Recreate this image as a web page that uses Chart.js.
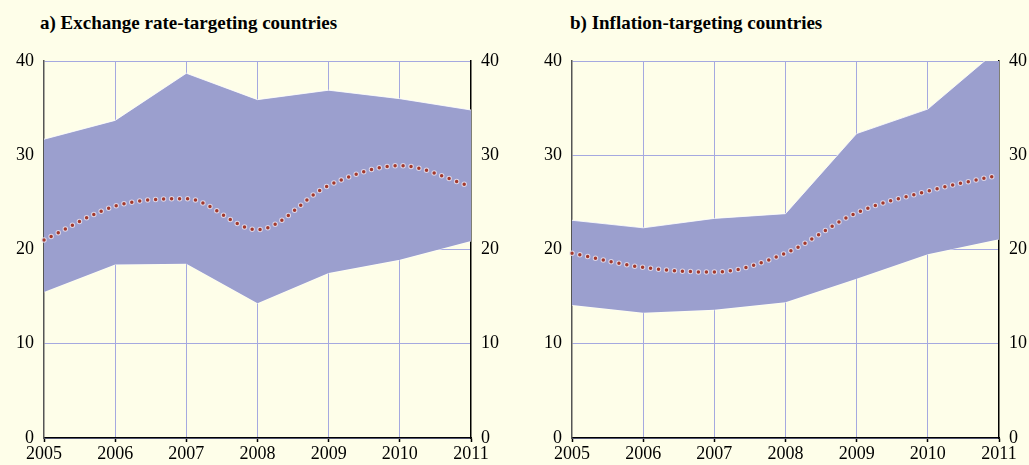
<!DOCTYPE html>
<html>
<head>
<meta charset="utf-8">
<script src="https://cdn.jsdelivr.net/npm/chart.js@4"></script>
<style>
    html, body {
        margin: 0;
        padding: 0;
        background: #fefee9;
    }
    #page {
        position: relative;
        width: 1029px;
        height: 465px;
        overflow: hidden;
        background: #fefee9;
    }
    .title {
        position: absolute;
        top: 12px;
        font-family: "Liberation Serif", "Times New Roman", serif;
        font-weight: bold;
        font-size: 19px;
        color: #000;
        white-space: nowrap;
    }
    .box {
        position: absolute;
        top: 0;
        height: 465px;
    }
</style>
</head>
<body>
<div id="page">
    <div class="title" style="left:40px">a) Exchange rate-targeting countries</div>
    <div class="title" style="left:570px">b) Inflation-targeting countries</div>
    <div class="box" style="left:0; width:520px"><canvas id="chartA"></canvas></div>
    <div class="box" style="left:528px; width:501px"><canvas id="chartB"></canvas></div>
</div>

<script>
/* ==========================================
   DATA
========================================== */

const years = ["2005", "2006", "2007", "2008", "2009", "2010", "2011"];

// a) Exchange rate-targeting countries
const erUpper  = [31.7, 33.7, 38.7, 35.9, 36.9, 36.0, 34.8];
const erLower  = [15.5, 18.4, 18.5, 14.3, 17.5, 18.9, 20.9];
const erMedian = [21.0, 24.6, 25.4, 22.1, 26.8, 28.9, 26.7];

// b) Inflation-targeting countries
const itUpper  = [23.1, 22.3, 23.3, 23.8, 32.3, 34.9, 41.3];
const itLower  = [14.1, 13.3, 13.6, 14.4, 16.9, 19.5, 21.1];
const itMedian = [19.6, 18.1, 17.6, 19.6, 23.9, 26.2, 27.9];

const yMin = 0;
const yMax = 40;
const yStep = 10;


/* ==========================================
   STYLE
========================================== */

const serif = "'Liberation Serif', 'Times New Roman', serif";
const bandColor = "#9b9fce";
const gridColor = "#a5a9e0";
const dotColor = "#a3382b";


/* ==========================================
   BUILD ONE PANEL
========================================== */

function makePanel(canvasId, upper, lower, median, rightWidth) {

    new Chart(document.getElementById(canvasId), {

        type: "line",

        data: {

            labels: years,

            datasets: [
                {
                    data: lower,
                    borderColor: "rgba(255,255,255,0.8)",
                    borderWidth: 1,
                    pointRadius: 0,
                    fill: false,
                    tension: 0,
                    order: 4
                },
                {
                    data: upper,
                    borderColor: "rgba(255,255,255,0.8)",
                    borderWidth: 1,
                    backgroundColor: bandColor,
                    pointRadius: 0,
                    fill: 0,
                    tension: 0,
                    order: 3
                },
                {
                    // pale halo round the dots
                    data: median,
                    borderColor: "rgba(228,218,232,0.9)",
                    borderWidth: 5.5,
                    borderDash: [0, 8],
                    borderCapStyle: "round",
                    pointRadius: 0,
                    fill: false,
                    cubicInterpolationMode: "monotone",
                    order: 2
                },
                {
                    data: median,
                    borderColor: dotColor,
                    borderWidth: 3.5,
                    borderDash: [0, 8],
                    borderCapStyle: "round",
                    pointRadius: 0,
                    fill: false,
                    cubicInterpolationMode: "monotone",
                    order: 1
                }
            ]

        },

        options: {

            responsive: true,
            maintainAspectRatio: false,
            animation: false,

            layout: {
                padding: { top: 61, left: 0, right: 0, bottom: 0 }
            },

            plugins: {
                legend: { display: false },
                tooltip: { enabled: false }
            },

            scales: {

                x: {
                    offset: false,
                    grid: {
                        // first and last lines sit under the y axis borders
                        color: (ctx) =>
                            (ctx.index === 0 || ctx.index === years.length - 1)
                                ? "rgba(0,0,0,0)" : gridColor,
                        tickColor: "#000",
                        tickLength: 4,
                        tickWidth: 1.5
                    },
                    border: { color: "#000", width: 1.5 },
                    ticks: {
                        color: "#000",
                        font: { family: serif, size: 18 },
                        padding: 1,
                        maxRotation: 0,
                        autoSkip: false
                    },
                    afterFit: (scale) => { scale.height = 27; }
                },

                y: {
                    position: "left",
                    min: yMin,
                    max: yMax,
                    grid: { color: gridColor, drawTicks: false },
                    border: { color: "#555", width: 1.5 },
                    ticks: {
                        stepSize: yStep,
                        color: "#000",
                        padding: 10,
                        font: { family: serif, size: 18 }
                    },
                    afterFit: (scale) => { scale.width = 44; }
                },

                y2: {
                    position: "right",
                    min: yMin,
                    max: yMax,
                    grid: { drawOnChartArea: false, drawTicks: false },
                    border: { color: "#000", width: 1.5 },
                    ticks: {
                        stepSize: yStep,
                        color: "#000",
                        padding: 10,
                        font: { family: serif, size: 18 }
                    },
                    afterFit: (scale) => { scale.width = rightWidth; }
                }

            }

        }

    });

}


/* ==========================================
   DRAW BOTH PANELS
========================================== */

makePanel("chartA", erUpper, erLower, erMedian, 49);

makePanel("chartB", itUpper, itLower, itMedian, 30);
</script>
</body>
</html>
